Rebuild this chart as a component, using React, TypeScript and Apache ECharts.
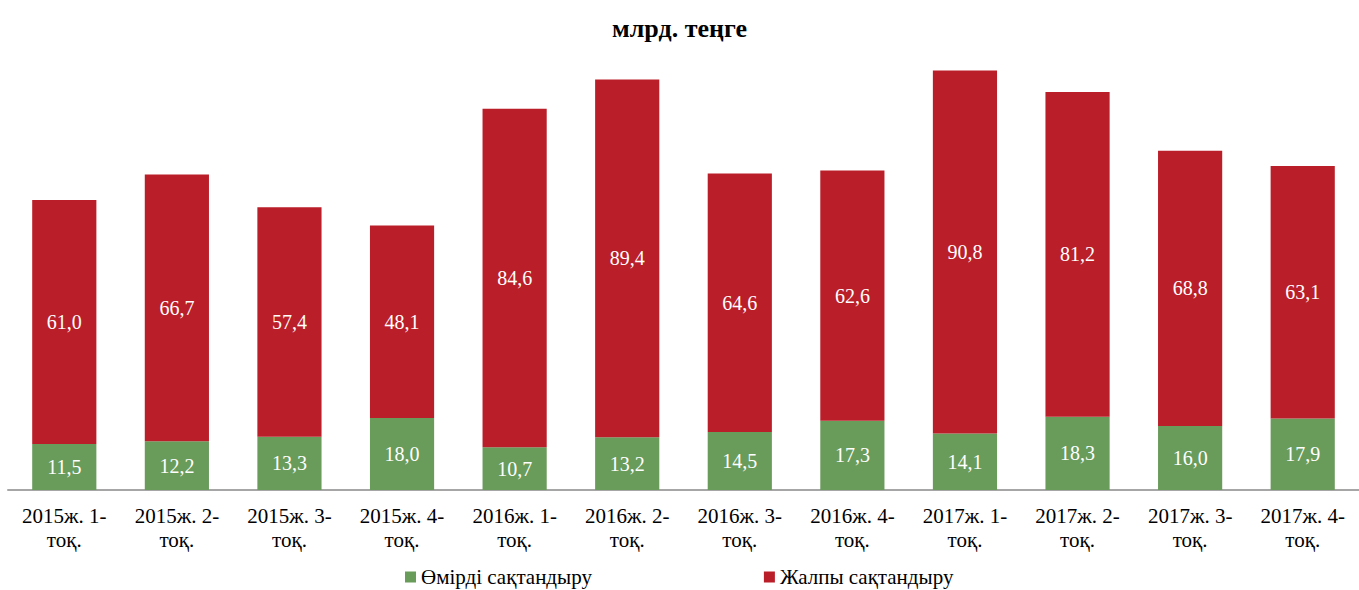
import React, { useEffect, useRef } from "react";
import * as echarts from "echarts";

const categories = [
  "2015ж. 1-\nтоқ.", "2015ж. 2-\nтоқ.", "2015ж. 3-\nтоқ.", "2015ж. 4-\nтоқ.",
  "2016ж. 1-\nтоқ.", "2016ж. 2-\nтоқ.", "2016ж. 3-\nтоқ.", "2016ж. 4-\nтоқ.",
  "2017ж. 1-\nтоқ.", "2017ж. 2-\nтоқ.", "2017ж. 3-\nтоқ.", "2017ж. 4-\nтоқ.",
];
const lifeInsurance = [11.5, 12.2, 13.3, 18.0, 10.7, 13.2, 14.5, 17.3, 14.1, 18.3, 16.0, 17.9];
const generalInsurance = [61.0, 66.7, 57.4, 48.1, 84.6, 89.4, 64.6, 62.6, 90.8, 81.2, 68.8, 63.1];
const seriesNames = ["Өмірді сақтандыру", "Жалпы сақтандыру"];
const title = "млрд. теңге";

const FONT = "'Liberation Serif', 'Times New Roman', serif";
const fmt = (p: any) => Number(p.value).toFixed(1).replace(".", ",");

export default function App() {
  const ref = useRef<HTMLDivElement>(null);
  useEffect(() => {
    if (!ref.current) return;
    const chart = echarts.init(ref.current, null, { renderer: "svg" });
    const label = {
      show: true,
      position: "inside",
      color: "#ffffff",
      fontFamily: FONT,
      fontSize: 20,
      formatter: fmt,
    };
    chart.setOption({
      animation: false,
      textStyle: { fontFamily: FONT },
      title: {
        text: title,
        left: "center",
        top: 10,
        textStyle: { fontFamily: FONT, fontSize: 26, fontWeight: "bold", color: "#000" },
      },
      legend: {
        top: 565,
        left: 405,
        padding: 0,
        itemGap: 172,
        itemWidth: 11,
        itemHeight: 11,
        icon: "rect",
        textStyle: { fontFamily: FONT, fontSize: 21, color: "#000", lineHeight: 24 },
        data: seriesNames,
      },
      grid: { left: 8, right: -2, top: 50, bottom: 100, containLabel: false },
      xAxis: {
        type: "category",
        data: categories,
        axisLine: { lineStyle: { color: "#a6a6a6", width: 2 } },
        axisTick: { show: false },
        axisLabel: {
          interval: 0,
          margin: 14,
          fontFamily: FONT,
          fontSize: 21,
          lineHeight: 24,
          color: "#000",
        },
      },
      yAxis: {
        type: "value",
        min: 0,
        max: 110,
        show: false,
        splitLine: { show: false },
      },
      series: [
        {
          name: seriesNames[0],
          type: "bar",
          stack: "total",
          barWidth: "57%",
          data: lifeInsurance,
          itemStyle: { color: "#699b5b" },
          label,
        },
        {
          name: seriesNames[1],
          type: "bar",
          stack: "total",
          barWidth: "57%",
          data: generalInsurance,
          itemStyle: { color: "#ba1e28" },
          label,
        },
      ],
    });
    return () => chart.dispose();
  }, []);
  return (
    <div
      ref={ref}
      style={{ position: "fixed", left: 0, top: 0, width: 1359, height: 590, background: "#fff" }}
    />
  );
}
